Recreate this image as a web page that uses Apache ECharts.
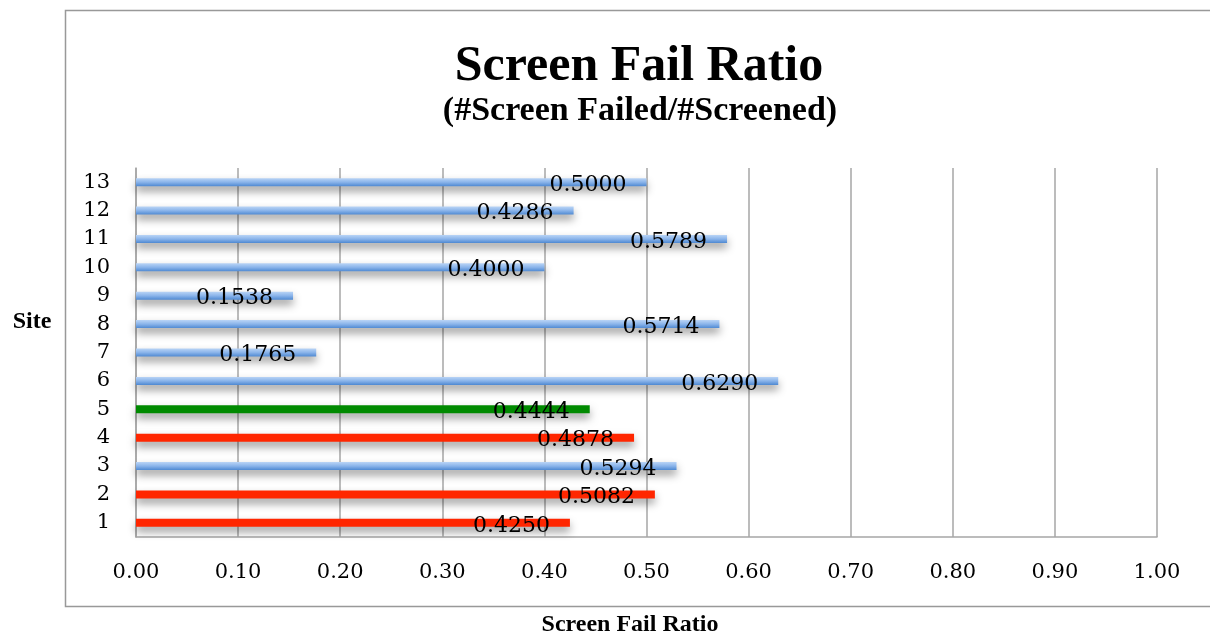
<!DOCTYPE html>
<html>
<head>
<meta charset="utf-8">
<script src="https://cdn.jsdelivr.net/npm/echarts@6/dist/echarts.min.js"></script>
<style>
html,body{margin:0;padding:0;background:#fff;}
#chart{width:1210px;height:636px;}
</style>
</head>
<body>
<div id="chart"></div>
<script>
const sites = ['1','2','3','4','5','6','7','8','9','10','11','12','13'];
const ratios = [0.4250,0.5082,0.5294,0.4878,0.4444,0.6290,0.1765,0.5714,0.1538,0.4000,0.5789,0.4286,0.5000];
const groups = ['red','red','blue','red','green','blue','blue','blue','blue','blue','blue','blue','blue'];
const xTicks = [0,0.1,0.2,0.3,0.4,0.5,0.6,0.7,0.8,0.9,1.0];
const titleText = 'Screen Fail Ratio';
const subtitleText = '(#Screen Failed/#Screened)';
const xName = 'Screen Fail Ratio';
const yName = 'Site';

const blueGrad = new echarts.graphic.LinearGradient(0,0,0,1,[
  {offset:0,color:'#b9d4f6'},
  {offset:0.5,color:'#8ab4ea'},
  {offset:1,color:'#4f89d2'}
]);
const colorMap = {red:'#ff2600', green:'#008a00', blue:blueGrad};

const chart = echarts.init(document.getElementById('chart'));
const serif = '"DejaVu Serif", serif';
const serifBold = '"Liberation Serif", serif';

chart.setOption({
  animation:false,
  backgroundColor:'#fff',
  grid:{left:136,right:53,top:168,bottom:99},
  xAxis:{
    type:'value', min:xTicks[0], max:xTicks[xTicks.length-1], interval:0.1,
    axisLine:{show:true,lineStyle:{color:'#a6a6a6',width:1.5}},
    axisTick:{show:false},
    splitLine:{show:true,lineStyle:{color:'#a6a6a6',width:1.5}},
    axisLabel:{margin:25,color:'#000',fontFamily:serif,fontSize:21,
      formatter:v=>v.toFixed(2)}
  },
  yAxis:{
    type:'category', data:sites,
    axisLine:{show:true,lineStyle:{color:'#a6a6a6',width:1.5}},
    axisTick:{show:false},
    axisLabel:{margin:26,color:'#000',fontFamily:serif,fontSize:21}
  },
  series:[{
    type:'bar',
    barWidth:8,
    data:ratios.map((v,i)=>({value:v,itemStyle:{color:colorMap[groups[i]]}})),
    itemStyle:{shadowColor:'rgba(0,0,0,0.4)',shadowBlur:8,shadowOffsetY:5},
    label:{show:true,position:'insideRight',distance:0,offset:[-20,3],
      color:'#000',fontFamily:serif,fontSize:22,
      formatter:p=>p.value.toFixed(4)}
  }],
  graphic:[
    {type:'rect',left:63,top:8,shape:{width:1160,height:596},
     style:{fill:null,stroke:'#999',lineWidth:1.5},silent:true},
    {type:'text',x:639,y:67,style:{text:titleText,font:'bold 50px '+serifBold,
      fill:'#000',align:'center',verticalAlign:'middle'}},
    {type:'text',x:640,y:111,style:{text:subtitleText,font:'bold 34px '+serifBold,
      fill:'#000',align:'center',verticalAlign:'middle'}},
    {type:'text',x:630,y:625,style:{text:xName,font:'bold 24px '+serifBold,
      fill:'#000',align:'center',verticalAlign:'middle'}},
    {type:'text',x:32,y:322,style:{text:yName,font:'bold 24px '+serifBold,
      fill:'#000',align:'center',verticalAlign:'middle'}}
  ]
});
</script>
</body>
</html>
